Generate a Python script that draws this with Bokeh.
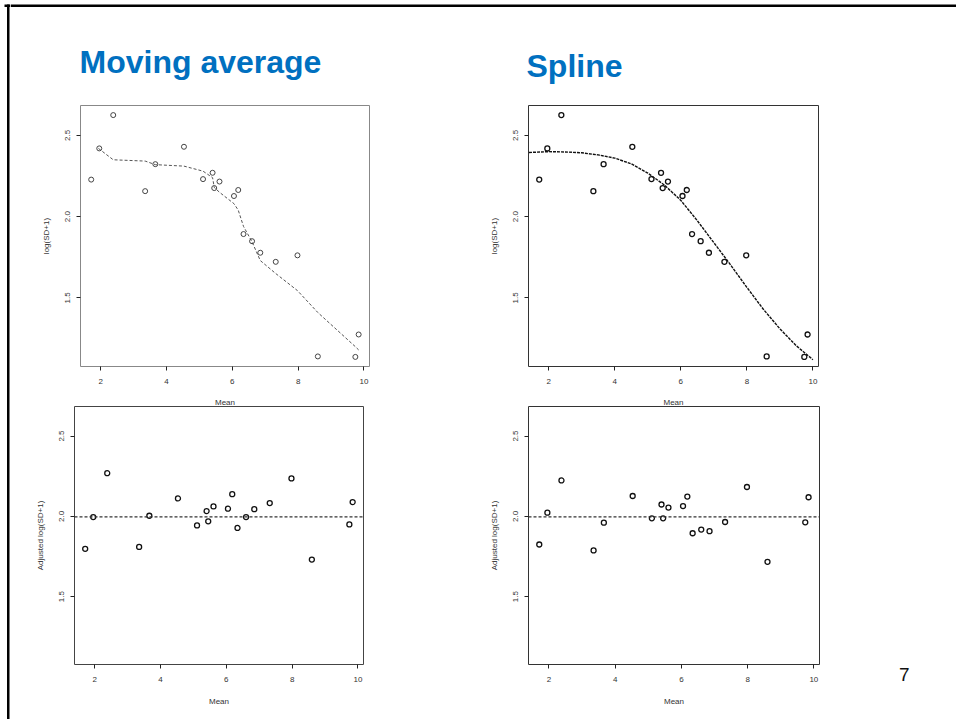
from bokeh.plotting import figure
from bokeh.models import Range1d, FixedTicker, NumeralTickFormatter, Label, BoxAnnotation, Span, Title
from bokeh.layouts import row, column
from bokeh.embed import file_html
from bokeh.resources import INLINE

# ---------------- data ----------------
mean_x = [1.71, 1.955, 2.38, 3.35, 3.66, 4.53, 5.11, 5.40, 5.45, 5.61,
          6.05, 6.18, 6.34, 6.60, 6.85, 7.32, 7.98, 8.60, 9.74, 9.84]
log_sd = [2.228, 2.420, 2.625, 2.157, 2.323, 2.430, 2.231, 2.270, 2.176, 2.216,
          2.127, 2.164, 1.893, 1.849, 1.778, 1.722, 1.762, 1.140, 1.137, 1.275]

ma_x = [1.93, 2.38, 3.35, 3.66, 4.53, 5.11, 5.40, 5.45, 5.61, 6.05,
        6.18, 6.34, 6.60, 6.85, 7.32, 7.98, 8.60, 9.74, 9.84]
ma_y = [2.42, 2.35, 2.342, 2.32, 2.311, 2.28, 2.24, 2.18, 2.15, 2.08,
        2.04, 1.94, 1.845, 1.73, 1.65, 1.545, 1.41, 1.20, 1.18]

spline_x = [1.40, 2.0, 2.5, 3.0, 3.5, 4.0, 4.5, 5.0, 5.5, 6.0,
            6.5, 7.0, 7.5, 8.0, 8.5, 9.0, 9.5, 10.0]
spline_y = [2.395, 2.400, 2.398, 2.393, 2.380, 2.360, 2.325, 2.268, 2.195, 2.100,
            1.975, 1.840, 1.705, 1.565, 1.430, 1.310, 1.205, 1.120]

adj_ma = [1.798, 1.996, 2.269, 1.810, 2.004, 2.112, 1.944, 2.033, 1.969, 2.062,
          2.048, 2.138, 1.928, 1.996, 2.045, 2.083, 2.236, 1.731, 1.950, 2.089]
adj_spline = [1.825, 2.023, 2.224, 1.788, 1.961, 2.127, 1.988, 2.074, 1.988, 2.055,
              2.064, 2.123, 1.895, 1.918, 1.908, 1.965, 2.183, 1.717, 1.963, 2.119]

ref_level = 1.997

x_ticks = [2, 4, 6, 8, 10]
y_ticks = [1.5, 2.0, 2.5]

titles = ["Moving average", "Spline"]
page_number = "7"

FONT = "Liberation Sans"
BLUE = "#0070C0"


def panel(w, h, left, right, top, bottom, ylabel, frame_color, tick_sd, label_sd):
    p = figure(width=w, height=h, output_backend="svg", toolbar_location=None,
               x_range=Range1d(1.385, 10.17), y_range=Range1d(1.078, 2.684),
               min_border_left=left, min_border_right=right,
               min_border_top=top, min_border_bottom=bottom,
               x_axis_label="Mean", y_axis_label=ylabel)
    p.grid.visible = False
    p.outline_line_color = frame_color
    p.outline_line_width = 1
    for ax in (p.xaxis[0], p.yaxis[0]):
        ax.axis_line_color = None
        ax.major_tick_out = 4
        ax.major_tick_in = 0
        ax.minor_tick_line_color = None
        ax.major_tick_line_color = "#222222"
        ax.major_label_text_font = FONT
        ax.major_label_text_font_size = "8px"
        ax.major_label_text_color = "#333333"
        ax.axis_label_text_font = FONT
        ax.axis_label_text_font_size = "8px"
        ax.axis_label_text_font_style = "normal"
        ax.axis_label_text_color = "#333333"
    p.xaxis.major_label_standoff = tick_sd
    p.xaxis.axis_label_standoff = label_sd
    p.yaxis.major_label_standoff = 6
    p.yaxis.axis_label_standoff = 12
    p.xaxis.ticker = FixedTicker(ticks=x_ticks)
    p.yaxis.ticker = FixedTicker(ticks=y_ticks)
    p.yaxis.formatter = NumeralTickFormatter(format="0.0")
    p.yaxis.major_label_orientation = "vertical"
    return p


# left slide border strip
strip = figure(width=10, height=719, output_backend="svg", toolbar_location=None,
               x_range=Range1d(0, 10), y_range=Range1d(0, 719),
               x_axis_type=None, y_axis_type=None, min_border=0)
strip.grid.visible = False
strip.outline_line_color = None
strip.add_layout(BoxAnnotation(left=6.5, right=9, bottom=0, top=715,
                               fill_color="black", fill_alpha=1, line_color=None))
strip.add_layout(BoxAnnotation(left=4, right=10, bottom=712.5, top=715,
                               fill_color="black", fill_alpha=1, line_color=None))

# header with titles
header = figure(width=946, height=100, output_backend="svg", toolbar_location=None,
                x_range=Range1d(10, 956), y_range=Range1d(0, 100),
                x_axis_type=None, y_axis_type=None, min_border=0)
header.grid.visible = False
header.outline_line_color = None
header.add_layout(BoxAnnotation(left=10, right=956, bottom=93.5, top=96,
                                fill_color="black", fill_alpha=1, line_color=None))
header.add_layout(Label(x=79, y=39, text=titles[0], text_font=FONT, text_font_style="bold",
                        text_font_size="32px", text_color=BLUE, text_baseline="alphabetic"))
header.add_layout(Label(x=526, y=35, text=titles[1], text_font=FONT, text_font_style="bold",
                        text_font_size="32px", text_color=BLUE, text_baseline="alphabetic"))

# top-left: moving average
tl = panel(440, 311, 70, 81, 5, 45, "log(SD+1)", "#888888", 8, 11)
tl.line(ma_x, ma_y, line_color="#555555", line_width=1, line_dash="3 2")
tl.scatter(mean_x, log_sd, marker="circle", size=5, fill_color=None,
           line_color="#444444", line_width=1)

# top-right: spline
tr = panel(506, 311, 78, 138, 5, 45, "log(SD+1)", "#333333", 8, 11)
tr.line(spline_x, spline_y, line_color="#111111", line_width=1.4, line_dash="3 1")
tr.scatter(mean_x, log_sd, marker="circle", size=5, fill_color=None,
           line_color="#111111", line_width=1.3)

# bottom-left: adjusted (moving average)
bl = panel(440, 314, 64, 87, 1, 55, "Adjusted log(SD+1)", "#444444", 8, 12)
bl.add_layout(Span(location=ref_level, dimension="width", line_color="#333333",
                   line_width=1.3, line_dash="3 2"))
bl.scatter(mean_x, adj_ma, marker="circle", size=5, fill_color=None,
           line_color="#111111", line_width=1.3)
bl.border_fill_alpha = 0

# bottom-right: adjusted (spline)
br = panel(410, 314, 78, 41, 1, 55, "Adjusted log(SD+1)", "#333333", 8, 12)
br.add_layout(Span(location=ref_level, dimension="width", line_color="#333333",
                   line_width=1.3, line_dash="3 2"))
br.scatter(mean_x, adj_spline, marker="circle", size=5, fill_color=None,
           line_color="#111111", line_width=1.3)
br.border_fill_alpha = 0

# side panel with the slide number (as a title below the panel)
side = figure(width=96, height=314, output_backend="svg", toolbar_location=None,
              x_range=Range1d(0, 96), y_range=Range1d(0, 314),
              x_axis_type=None, y_axis_type=None, min_border=0)
side.grid.visible = False
side.outline_line_color = None
side.border_fill_alpha = 0
side.background_fill_alpha = 0
side.add_layout(Title(text=page_number, text_font=FONT, text_font_size="19px",
                      text_font_style="normal", text_color="#111111",
                      align="left", offset=38.5, standoff=3), "below")

layout = row(strip, column(header, row(tl, tr), row(bl, br, side, margin=(-6, 0, 0, 0))))

open("out.html", "w").write(file_html(layout, INLINE))
